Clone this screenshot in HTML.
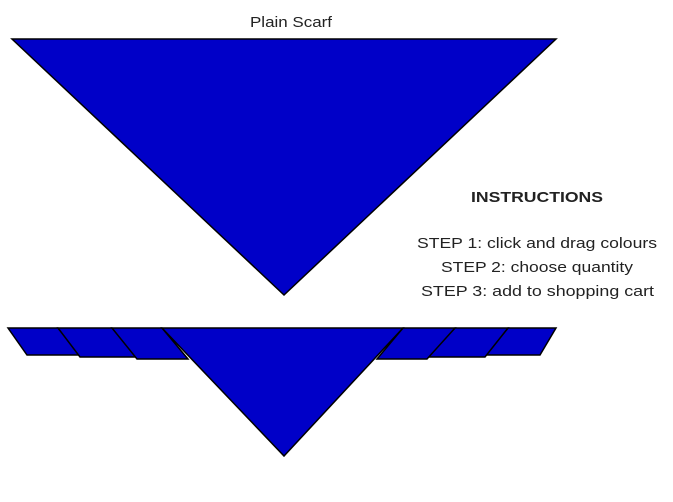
<!DOCTYPE html>
<html><head><style>
html,body{margin:0;padding:0;background:#fff;}
svg{display:block;}
text{font-family:"Liberation Sans",sans-serif;fill:#222;}
</style></head><body>
<svg width="673" height="502" viewBox="0 0 673 502" xmlns="http://www.w3.org/2000/svg">
<g fill="#0000c8" stroke="#000" stroke-width="1.5" stroke-linejoin="miter">
<polygon points="12,39 556,39 284,295"/>
<polygon points="8,328 58,328 80,355 27,355"/>
<polygon points="58,328 112,328 137,357 80,357"/>
<polygon points="112,328 162,328 188,359 137,359"/>
<polygon points="508,328 556,328 540,355 485,355"/>
<polygon points="455,328 508,328 485,357 427,357"/>
<polygon points="403,328 455,328 427,359 377,359"/>
<polygon points="162,328 403,328 284,456"/>
</g>
<text x="250" y="27" font-size="15" textLength="82" lengthAdjust="spacingAndGlyphs">Plain Scarf</text>
<text x="471" y="202" font-size="15" font-weight="bold" textLength="132" lengthAdjust="spacingAndGlyphs">INSTRUCTIONS</text>
<text x="417" y="248" font-size="15" textLength="240" lengthAdjust="spacingAndGlyphs">STEP 1: click and drag colours</text>
<text x="441" y="272" font-size="15" textLength="192" lengthAdjust="spacingAndGlyphs">STEP 2: choose quantity</text>
<text x="421" y="296" font-size="15" textLength="233" lengthAdjust="spacingAndGlyphs">STEP 3: add to shopping cart</text>
</svg>
</body></html>
